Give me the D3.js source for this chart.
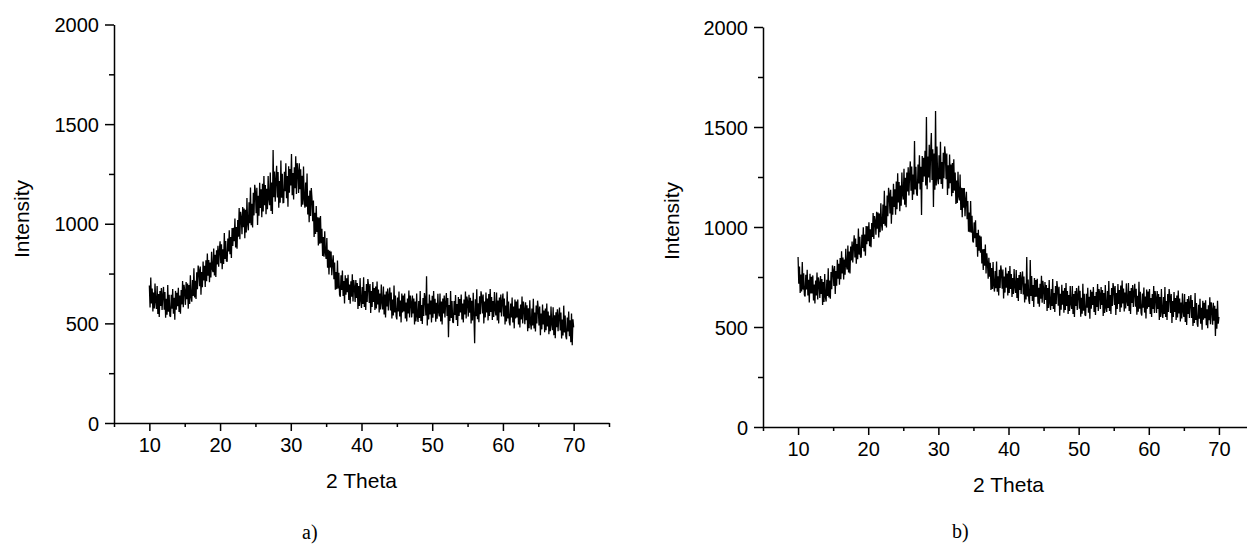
<!DOCTYPE html>
<html><head><meta charset="utf-8">
<script src="https://cdn.jsdelivr.net/npm/d3@7"></script>
<style>body{margin:0;background:#fff}svg{display:block}</style>
</head><body>
<svg id="c" width="1247" height="545"></svg>
<script>
// sampling grid of the scans (degrees 2-theta)
const thetaStart = 10, thetaStep = 0.1;
const xDomain = [5, 75];
const yDomain = [0, 2000];
const xMajorTicks = [10, 20, 30, 40, 50, 60, 70];
const xMinorTicks = [5, 15, 25, 35, 45, 55, 65, 75];
const yMajorTicks = [0, 500, 1000, 1500, 2000];
const yMinorTicks = [250, 750, 1250, 1750];
const xLabel = "2 Theta";
const yLabel = "Intensity";
const captions = ["a)", "b)"];

// panel a) intensity, one row per degree (10.0 ... 10.9, 11.0 ...)
const intensityA = [
 690,580,730,600,675,560,655,575,700,610,
 572,687,547,647,532,662,587,677,567,642,
 683,568,658,528,623,543,693,558,643,538,
 533,643,573,673,548,628,518,663,568,653,
 586,679,557,640,548,667,595,713,581,694,
 664,593,707,621,700,574,693,597,741,630,
 609,718,637,776,630,714,623,757,671,790,
 767,686,785,644,758,682,811,715,789,683,
 817,711,850,739,818,707,806,730,859,773,
 757,876,740,844,733,867,796,890,784,863,
 912,802,897,772,872,798,953,823,913,813,
 810,926,861,967,847,933,828,979,889,980,
 912,1026,881,983,875,1019,935,1079,922,1060,
 1031,947,1084,982,1077,927,1070,956,1129,997,
 967,1108,1002,1182,992,1100,981,1155,1042,1196,
 1161,1053,1180,994,1141,1040,1206,1079,1173,1033,
 1201,1061,1240,1093,1194,1048,1175,1073,1239,1125,
 1093,1257,1064,1207,1049,1370,1133,1262,1111,1219,
 1291,1132,1260,1080,1215,1105,1317,1130,1251,1106,
 1107,1261,1163,1303,1128,1240,1086,1289,1156,1275,
 1192,1350,1143,1255,1122,1283,1178,1339,1150,1304,
 1265,1155,1304,1173,1273,1085,1241,1096,1287,1121,
 1080,1207,1086,1252,1047,1141,1007,1167,1039,1179,
 1125,1013,1117,933,1055,949,1089,959,1033,891,
 1031,900,1039,902,975,838,933,834,962,853,
 823,928,779,869,745,865,781,861,742,807,
 842,721,805,669,758,672,816,675,754,643,
 634,741,668,765,637,713,600,742,644,726,
 656,744,617,695,598,711,634,747,610,718,
 682,607,717,627,702,572,687,587,727,612,
 577,682,597,732,582,662,567,697,607,722,
 687,602,697,552,662,582,707,607,677,567,
 685,575,710,595,670,555,650,570,695,605,
 570,685,545,645,530,660,585,675,565,640,
 680,565,655,525,620,540,690,555,640,535,
 520,630,560,660,535,615,505,650,555,640,
 560,650,525,605,510,625,550,665,530,640,
 605,530,640,550,625,495,610,510,650,535,
 507,612,527,662,512,592,497,627,537,652,
 625,540,737,490,600,520,645,545,615,505,
 638,528,663,548,623,508,603,523,648,558,
 535,650,510,610,495,625,550,640,530,605,
 652,537,627,430,592,512,662,527,612,507,
 502,612,542,642,517,597,487,632,537,622,
 555,645,520,600,505,620,545,660,525,635,
 609,534,644,554,629,499,614,514,654,539,
 400,621,536,671,521,601,506,636,546,661,
 635,550,645,500,610,530,655,555,625,515,
 647,537,672,557,632,517,612,532,657,567,
 540,655,515,615,500,630,555,645,535,610,
 650,535,625,495,590,510,660,525,610,505,
 490,600,530,630,505,585,475,620,525,610,
 530,620,495,575,480,595,520,635,500,610,
 571,496,606,516,591,461,576,476,616,501,
 469,574,489,624,474,554,459,589,499,614,
 575,490,585,440,550,470,595,495,565,455,
 575,465,600,485,560,445,540,460,585,495,
 466,581,441,541,426,556,481,571,461,536,
 579,464,554,424,519,439,589,454,539,434,
 420,530,460,560,435,515,405,550,390,520,
 480
];

// panel b) intensity, one row per degree
const intensityB = [
 850,716,803,670,762,678,825,687,769,661,
 653,761,688,786,658,736,623,766,668,751,
 668,758,633,713,618,733,658,773,638,748,
 720,645,755,665,740,610,725,625,765,650,
 627,736,655,794,648,732,641,775,689,808,
 785,705,805,665,780,706,836,741,816,711,
 845,739,879,768,848,737,837,761,891,805,
 787,907,772,877,767,903,833,928,823,903,
 959,848,942,816,915,839,993,862,951,850,
 847,961,895,999,878,962,856,1005,914,1003,
 929,1024,904,989,899,1020,950,1070,940,1055,
 1030,961,1076,992,1072,948,1068,974,1119,1010,
 982,1112,1015,1181,1006,1106,997,1157,1054,1196,
 1165,1067,1186,1016,1153,1061,1216,1100,1189,1061,
 1228,1089,1269,1123,1225,1079,1207,1106,1273,1160,
 1137,1291,1111,1246,1099,1272,1177,1299,1158,1260,
 1328,1181,1302,1135,1262,1162,1430,1187,1301,1167,
 1156,1312,1217,1359,1187,1301,1060,1355,1225,1346,
 1253,1381,1207,1550,1189,1352,1248,1411,1223,1379,
 1470,1235,1389,1100,1368,1186,1580,1207,1403,1242,
 1214,1359,1239,1426,1215,1325,1191,1371,1244,1403,
 1362,1239,1367,1160,1309,1193,1363,1219,1312,1154,
 1320,1170,1339,1182,1273,1115,1232,1120,1276,1152,
 1133,1262,1085,1196,1049,1195,1096,1195,1054,1135,
 1176,1039,1130,976,1072,974,1130,971,1056,930,
 923,1023,944,1034,900,970,851,986,882,957,
 871,952,818,889,785,890,806,912,768,869,
 821,741,846,751,821,685,795,690,825,705,
 677,780,694,827,676,754,658,786,695,808,
 777,692,787,642,752,672,797,697,767,657,
 780,670,805,690,765,650,745,665,790,700,
 670,785,645,745,630,760,685,775,665,740,
 778,663,753,623,718,638,850,653,738,633,
 615,835,655,755,630,710,600,745,650,735,
 651,741,616,696,601,716,641,756,621,731,
 690,615,725,635,710,580,695,595,735,620,
 585,690,605,740,590,670,575,705,615,730,
 691,606,701,556,666,586,711,611,681,571,
 695,585,720,605,680,565,660,580,705,615,
 590,705,565,665,550,680,605,695,585,660,
 706,591,681,551,646,566,716,581,666,561,
 556,666,596,696,571,651,541,686,591,676,
 610,700,575,655,560,675,600,715,580,690,
 665,590,700,610,685,555,670,570,710,595,
 575,680,595,730,580,660,565,695,605,720,
 695,610,705,560,670,590,715,615,685,575,
 708,598,733,618,693,578,673,593,718,628,
 605,720,580,680,565,695,620,710,600,675,
 716,601,691,561,656,576,726,591,676,571,
 557,667,597,697,572,652,542,687,592,677,
 600,690,565,645,550,665,590,705,570,680,
 645,570,680,590,665,535,650,550,690,575,
 545,650,565,700,550,630,535,665,575,690,
 655,570,665,520,630,550,675,575,645,535,
 658,548,683,568,643,528,623,543,668,578,
 550,665,525,625,510,640,565,655,545,620,
 660,545,635,505,600,520,670,535,620,515,
 501,611,541,641,516,596,486,631,536,621,
 544,634,509,589,494,609,534,649,514,624,
 586,511,621,531,606,455,591,491,631,516,
 550
];

const panels = [
  {data: intensityA, caption: captions[0], xr: [114, 609], yr: [423, 24.5], ylab: [29, 219], capPos: [302, 539]},
  {data: intensityB, caption: captions[1], xr: [763, 1254], yr: [427, 27], ylab: [679, 221], capPos: [952, 538]}
];

const svg = d3.select("#c");
const sans = "'Liberation Sans', Arial, sans-serif";

panels.forEach(p => {
  const x = d3.scaleLinear().domain(xDomain).range(p.xr);
  const y = d3.scaleLinear().domain(yDomain).range(p.yr);
  const g = svg.append("g");

  // minor ticks
  g.append("g").attr("transform", `translate(0,${p.yr[0]})`)
    .call(d3.axisBottom(x).tickValues(xMinorTicks).tickSize(4).tickSizeOuter(0).tickFormat(""))
    .call(a => a.select(".domain").remove());
  g.append("g").attr("transform", `translate(${p.xr[0]},0)`)
    .call(d3.axisLeft(y).tickValues(yMinorTicks).tickSize(5).tickSizeOuter(0).tickFormat(""))
    .call(a => a.select(".domain").remove());

  // major x axis
  const xa = g.append("g").attr("transform", `translate(0,${p.yr[0]})`)
    .call(d3.axisBottom(x).tickValues(xMajorTicks).tickSize(8).tickSizeOuter(0).tickFormat(d3.format("d")));
  xa.selectAll("text").attr("y", 29).attr("dy", null)
    .style("font-family", sans).style("font-size", "20px").attr("fill", "#000");

  // major y axis
  const ya = g.append("g").attr("transform", `translate(${p.xr[0]},0)`)
    .call(d3.axisLeft(y).tickValues(yMajorTicks).tickSize(9).tickSizeOuter(0).tickFormat(d3.format("d")));
  ya.selectAll("text").attr("x", -15).attr("dy", "0.36em")
    .style("font-family", sans).style("font-size", "20px").attr("fill", "#000");

  g.selectAll(".domain, .tick line").attr("stroke", "#000").attr("stroke-width", 1.5);

  // spectrum
  const line = d3.line()
    .x((d, i) => x(thetaStart + i * thetaStep))
    .y(d => y(d));
  g.append("path").datum(p.data).attr("d", line)
    .attr("fill", "none").attr("stroke", "#000").attr("stroke-width", 1.3)
    .attr("stroke-linejoin", "miter").attr("stroke-miterlimit", 2);

  // axis titles
  g.append("text").attr("x", (p.xr[0] + p.xr[1]) / 2).attr("y", p.yr[0] + 65)
    .attr("text-anchor", "middle").style("font-family", sans).style("font-size", "21px")
    .text(xLabel);
  g.append("text").attr("transform", `translate(${p.ylab[0]},${p.ylab[1]}) rotate(-90)`)
    .attr("text-anchor", "middle").style("font-family", sans).style("font-size", "21px")
    .text(yLabel);

  // caption
  g.append("text").attr("x", p.capPos[0]).attr("y", p.capPos[1])
    .style("font-family", "'Liberation Serif', 'Times New Roman', serif").style("font-size", "20px")
    .text(p.caption);
});
</script>
</body></html>
